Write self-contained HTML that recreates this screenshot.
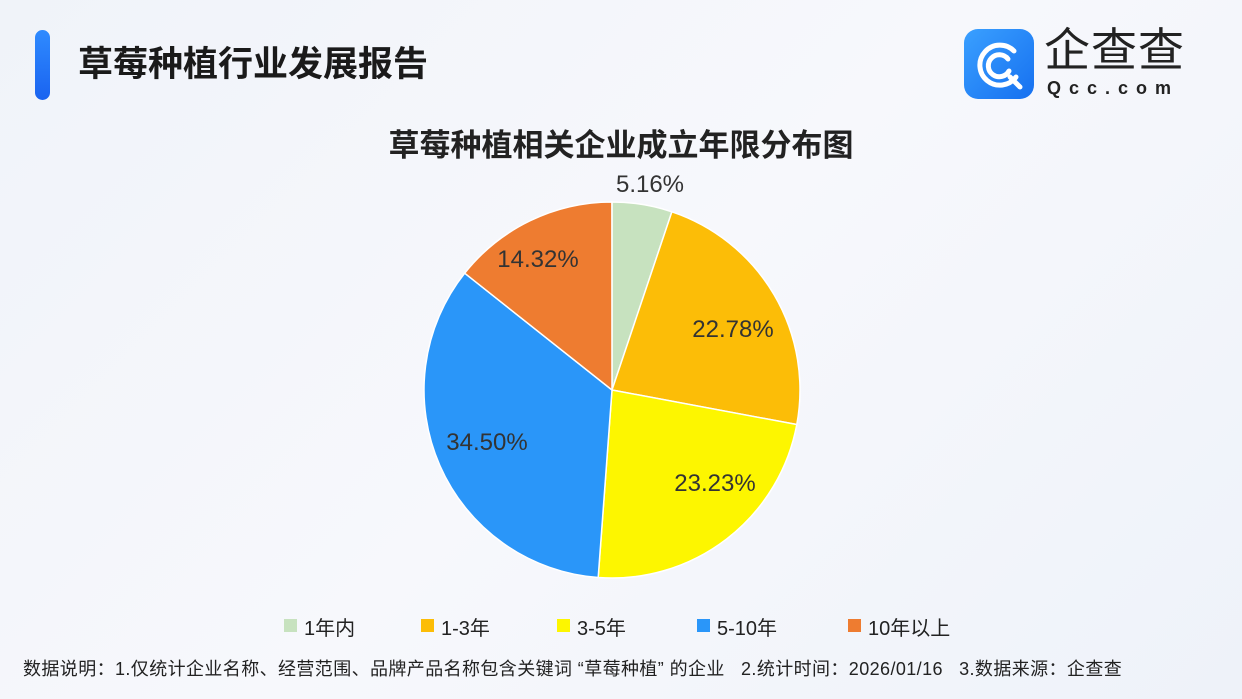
<!DOCTYPE html>
<html><head><meta charset="utf-8"><style>
body{margin:0;width:1242px;height:699px;overflow:hidden;background:linear-gradient(135deg,#f0f3f9 0%,#f7f8fc 50%,#eef2f9 100%);font-family:"Liberation Sans","Noto Sans CJK SC",sans-serif;position:relative;color:#222}
.a{position:absolute;white-space:nowrap}
</style></head><body>
<div class="a" style="left:35px;top:30px;width:15px;height:70px;border-radius:8px;background:linear-gradient(#2f8bff,#1a63f0)"></div>
<div class="a" style="left:78px;top:36px;font-size:35px;font-weight:bold;color:#1a1a1a">草莓种植行业发展报告</div>
<div class="a" style="left:964px;top:29px;width:70px;height:70px;border-radius:14px;background:linear-gradient(135deg,#3aa0ff,#1670f0)"></div>
<svg class="a" style="left:964px;top:29px" width="70" height="70"><g fill="none" stroke="#fff" stroke-width="5" stroke-linecap="round"><path d="M50 22 A20 20 0 1 0 52 48"/><path d="M44 30 A11 11 0 1 0 45 42"/><path d="M46 48 L56 58"/></g></svg>
<div class="a" style="left:1044px;top:22px;font-size:46px;line-height:56px;color:#222;letter-spacing:1px">企查查</div>
<div class="a" style="left:1047px;top:78px;font-size:18px;line-height:20px;color:#222;letter-spacing:8px;font-weight:bold">Qcc.com</div>
<div class="a" style="left:0;width:1242px;text-align:center;top:120px;font-size:31px;font-weight:bold;color:#222">草莓种植相关企业成立年限分布图</div>
<svg class="a" style="left:0;top:0" width="1242" height="699" id="pie"></svg>
<script>
var d=[[5.16,"#c7e2bf"],[22.78,"#fcbd07"],[23.23,"#fdf600"],[34.5,"#2a96f9"],[14.32,"#ee7c30"]];
var cx=612,cy=390,r=188,a=0,s="";
d.forEach(function(e){var b=a+e[0]*3.6;var p=function(t){t=t*Math.PI/180;return (cx+r*Math.sin(t)).toFixed(2)+" "+(cy-r*Math.cos(t)).toFixed(2)};
s+='<path d="M'+cx+' '+cy+' L'+p(a)+' A'+r+' '+r+' 0 '+(b-a>180?1:0)+' 1 '+p(b)+' Z" fill="'+e[1]+'" stroke="#fff" stroke-width="1.5"/>';a=b;});
var L=[["5.16%",650,183],["22.78%",733,328],["23.23%",715,482],["34.50%",487,441],["14.32%",538,258]];
L.forEach(function(l){s+='<text x="'+l[1]+'" y="'+(l[2]+9)+'" text-anchor="middle" font-size="24" fill="#333" font-family="Liberation Sans,sans-serif">'+l[0]+'</text>'});
document.getElementById("pie").innerHTML=s;
</script>
<div class="a" style="left:284px;top:619px;width:13px;height:13px;background:#c7e2bf"></div><div class="a" style="left:304px;top:612px;font-size:20px">1年内</div>
<div class="a" style="left:421px;top:619px;width:13px;height:13px;background:#fcbd07"></div><div class="a" style="left:441px;top:612px;font-size:20px">1-3年</div>
<div class="a" style="left:557px;top:619px;width:13px;height:13px;background:#fdf600"></div><div class="a" style="left:577px;top:612px;font-size:20px">3-5年</div>
<div class="a" style="left:697px;top:619px;width:13px;height:13px;background:#2a96f9"></div><div class="a" style="left:717px;top:612px;font-size:20px">5-10年</div>
<div class="a" style="left:848px;top:619px;width:13px;height:13px;background:#ee7c30"></div><div class="a" style="left:868px;top:612px;font-size:20px">10年以上</div>
<div class="a" style="left:23px;top:655px;font-size:18px;letter-spacing:0.4px;color:#222">数据说明：1.仅统计企业名称、经营范围、品牌产品名称包含关键词 “草莓种植” 的企业&nbsp;&nbsp;&nbsp;2.统计时间：2026/01/16&nbsp;&nbsp;&nbsp;3.数据来源：企查查</div>
</body></html>
